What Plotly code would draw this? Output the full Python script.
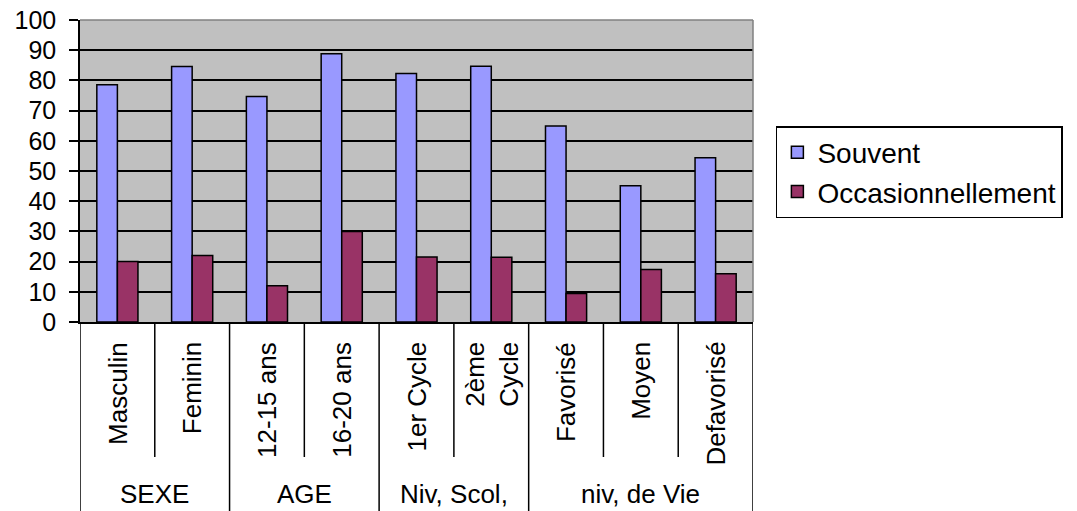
import plotly.graph_objects as go

categories = ["Masculin", "Feminin", "12-15 ans", "16-20 ans", "1er Cycle",
              "2ème<br>Cycle", "Favorisé", "Moyen", "Defavorisé"]
souvent = [78.6, 84.6, 74.7, 88.8, 82.3, 84.7, 64.9, 45.1, 54.4]
occasionnellement = [20, 22, 12, 30, 21.5, 21.4, 9.4, 17.4, 16]
groups = ["SEXE", "AGE", "Niv, Scol,", "niv, de Vie"]
group_sizes = [2, 2, 2, 3]

FONT = "Liberation Sans, Arial, sans-serif"
W, H = 1077, 511
ML, MR, MT, MB = 80, 324, 20, 189
PH = H - MT - MB

def py(px):
    return (H - MB - px) / PH

fig = go.Figure()
fig.add_trace(go.Bar(x=categories, y=souvent, name="Souvent",
                     marker=dict(color="#9999FF", line=dict(color="black", width=1.5))))
fig.add_trace(go.Bar(x=categories, y=occasionnellement, name="Occasionnellement",
                     marker=dict(color="#993366", line=dict(color="black", width=1.5))))

shapes = []
shapes.append(dict(type="line", xref="paper", yref="paper", x0=0, x1=1, y0=1, y1=1,
                   line=dict(color="#808080", width=1.5)))
shapes.append(dict(type="line", xref="paper", yref="paper", x0=1, x1=1, y0=0, y1=1,
                   line=dict(color="#808080", width=1.5)))
boundaries = [0]
for s in group_sizes:
    boundaries.append(boundaries[-1] + s)
for i in range(len(categories) + 1):
    y1 = py(H) if i in boundaries else py(457)
    shapes.append(dict(type="line", xref="x", yref="paper", x0=i - 0.5, x1=i - 0.5,
                       y0=0, y1=y1, line=dict(color="black", width=1.5)))

annotations = []
for c in categories:
    annotations.append(dict(x=c, y=py(340), xref="x", yref="paper", text=c,
                            textangle=-90, showarrow=False, yanchor="top",
                            font=dict(family=FONT, size=26, color="black")))
for g, b0, b1 in zip(groups, boundaries[:-1], boundaries[1:]):
    annotations.append(dict(x=(b0 + b1 - 1) / 2, y=py(494), xref="x", yref="paper",
                            text=g, showarrow=False, yanchor="middle",
                            font=dict(family=FONT, size=26, color="black")))

fig.update_layout(
    width=W, height=H,
    margin=dict(l=ML, r=MR, t=MT, b=MB, autoexpand=False),
    paper_bgcolor="white", plot_bgcolor="#C0C0C0",
    barmode="group", bargap=0.45, bargroupgap=0,
    font=dict(family=FONT, size=25, color="black"),
    xaxis=dict(showticklabels=False, ticks="", range=[-0.5, len(categories) - 0.5],
               showline=True, linecolor="black", linewidth=1.5, showgrid=False,
               automargin=False),
    yaxis=dict(range=[0, 100], dtick=10, ticks="outside", ticklen=9, tickcolor="black",
               tickwidth=1.5, showline=True, linecolor="black", linewidth=1.5,
               gridcolor="black", gridwidth=1.5, zeroline=False, automargin=False,
               ticklabelstandoff=8, tickfont=dict(family=FONT, size=25)),
    legend=dict(x=1.034, y=py(126), xanchor="left", yanchor="top",
                bordercolor="black", borderwidth=1.5, bgcolor="white",
                font=dict(family=FONT, size=28), tracegroupgap=0),
    shapes=shapes, annotations=annotations,
)

fig.write_html("out.html", config={"displayModeBar": False},
               post_script="document.body.style.margin='0';document.body.style.overflow='hidden';")
